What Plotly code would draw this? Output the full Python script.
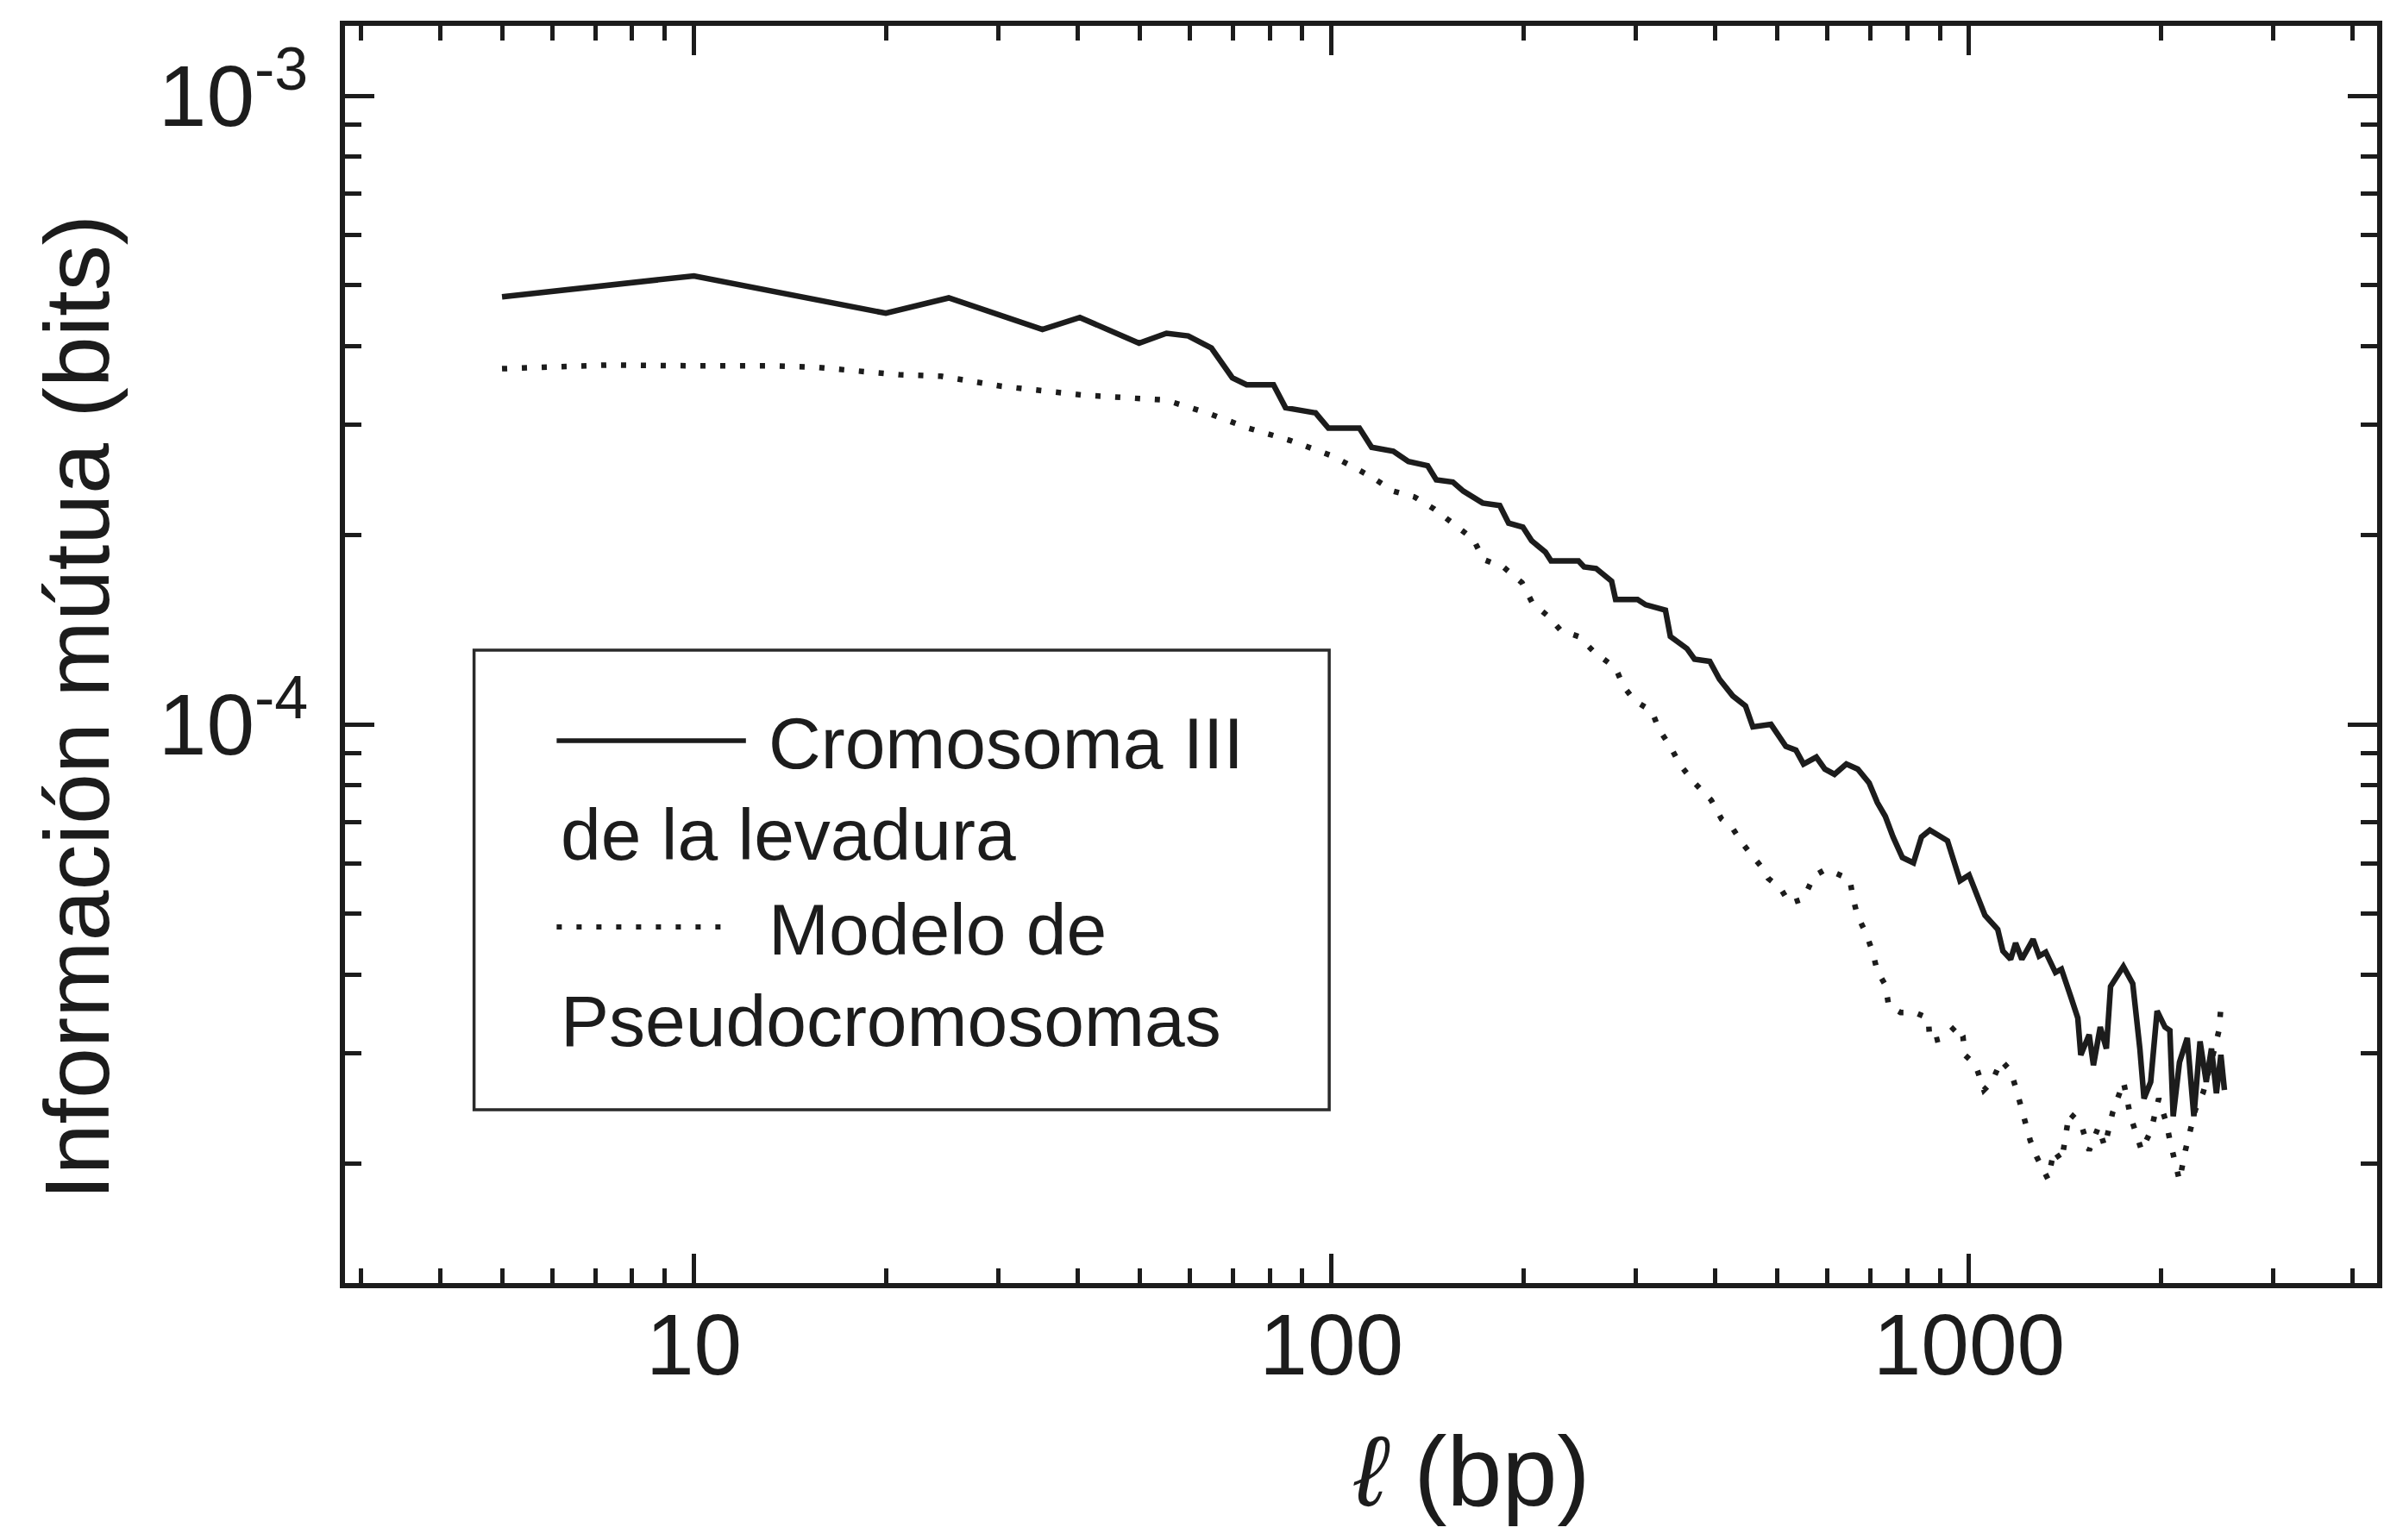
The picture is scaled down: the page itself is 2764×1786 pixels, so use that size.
import math
import plotly.graph_objects as go

# ---------------- data ----------------
l_cromosoma = [5, 10, 20, 25.1, 35.2, 40.3, 49.9, 55.1, 59.6, 64.8, 69.9, 73.6, 81.1, 84.7,
               94.4, 98.9, 110.6, 115.6, 125, 132, 141.5, 146, 155, 161, 172.6, 183.6, 189.6,
               199.6, 206, 216.5, 221, 244, 249, 260, 275, 279, 302, 311, 334, 340, 361, 371,
               392, 406, 426, 446, 458, 489, 516, 535, 550, 576, 594, 615, 642, 669, 697, 718,
               739, 760, 786, 818, 842, 868, 925, 968, 1000, 1035, 1059, 1109, 1130, 1162,
               1183, 1210, 1260, 1288, 1319, 1366, 1396, 1445, 1481, 1497, 1543, 1567, 1606,
               1642, 1667, 1746, 1806, 1853, 1881, 1927, 1972, 2029, 2065, 2090, 2138, 2199,
               2252, 2303, 2355, 2400, 2443, 2483, 2515]
mi_cromosoma = [4.79e-4, 5.17e-4, 4.51e-4, 4.77e-4, 4.25e-4, 4.44e-4, 4.04e-4, 4.19e-4, 4.15e-4,
                3.97e-4, 3.56e-4, 3.47e-4, 3.47e-4, 3.19e-4, 3.13e-4, 2.96e-4, 2.96e-4, 2.76e-4,
                2.72e-4, 2.62e-4, 2.58e-4, 2.45e-4, 2.43e-4, 2.35e-4, 2.25e-4, 2.23e-4, 2.09e-4,
                2.06e-4, 1.96e-4, 1.88e-4, 1.82e-4, 1.82e-4, 1.78e-4, 1.77e-4, 1.69e-4, 1.58e-4,
                1.58e-4, 1.55e-4, 1.52e-4, 1.38e-4, 1.32e-4, 1.27e-4, 1.26e-4, 1.18e-4, 1.11e-4,
                1.07e-4, 9.91e-5, 1.0e-4, 9.23e-5, 9.1e-5, 8.65e-5, 8.87e-5, 8.49e-5, 8.33e-5,
                8.65e-5, 8.49e-5, 8.07e-5, 7.51e-5, 7.14e-5, 6.62e-5, 6.14e-5, 6.02e-5, 6.62e-5,
                6.79e-5, 6.53e-5, 5.64e-5, 5.76e-5, 5.23e-5, 4.97e-5, 4.72e-5, 4.36e-5, 4.23e-5,
                4.49e-5, 4.23e-5, 4.55e-5, 4.28e-5, 4.34e-5, 4.03e-5, 4.08e-5, 3.68e-5, 3.41e-5,
                2.98e-5, 3.21e-5, 2.87e-5, 3.30e-5, 3.05e-5, 3.83e-5, 4.12e-5, 3.87e-5, 3.05e-5,
                2.54e-5, 2.70e-5, 3.50e-5, 3.30e-5, 3.26e-5, 2.38e-5, 2.90e-5, 3.17e-5, 2.38e-5,
                3.13e-5, 2.70e-5, 3.05e-5, 2.59e-5, 2.98e-5, 2.62e-5]

l_modelo = [5, 7.33, 9.86, 13.3, 15.5, 18.1, 21, 24.4, 30.4, 40.9, 55, 63.8, 74.1, 86.1, 99.6,
            108, 116, 125, 135, 145, 157, 167, 173, 186, 199, 206.6, 218, 229, 244, 259, 279,
            287, 299, 318, 326, 340, 352, 371, 394, 409, 426, 438, 453, 472, 484, 506, 523, 550,
            571, 594, 617, 650, 658, 668, 690, 705, 718, 739, 748, 781, 823, 863, 868, 913, 956,
            978, 985, 1024, 1055, 1086, 1123, 1162, 1188, 1225, 1247, 1277, 1330, 1359, 1397,
            1436, 1497, 1543, 1596, 1632, 1679, 1747, 1791, 1865, 1929, 1984, 2040, 2065, 2138,
            2184, 2224, 2265, 2330, 2380, 2427, 2466, 2483]
mi_modelo = [3.68e-4, 3.73e-4, 3.72e-4, 3.72e-4, 3.70e-4, 3.64e-4, 3.60e-4, 3.58e-4, 3.45e-4,
             3.34e-4, 3.28e-4, 3.13e-4, 2.96e-4, 2.83e-4, 2.68e-4, 2.57e-4, 2.47e-4, 2.35e-4,
             2.30e-4, 2.20e-4, 2.07e-4, 1.97e-4, 1.83e-4, 1.78e-4, 1.68e-4, 1.56e-4, 1.49e-4,
             1.41e-4, 1.38e-4, 1.30e-4, 1.23e-4, 1.15e-4, 1.09e-4, 1.05e-4, 9.84e-5, 9.22e-5,
             8.63e-5, 8.07e-5, 7.58e-5, 7.07e-5, 6.83e-5, 6.53e-5, 6.25e-5, 5.94e-5, 5.69e-5,
             5.49e-5, 5.19e-5, 5.28e-5, 5.74e-5, 5.87e-5, 5.80e-5, 5.67e-5, 5.28e-5, 4.97e-5,
             4.64e-5, 4.36e-5, 4.05e-5, 3.85e-5, 3.57e-5, 3.48e-5, 3.48e-5, 3.41e-5, 3.13e-5,
             3.17e-5, 3.32e-5, 3.19e-5, 2.98e-5, 2.87e-5, 2.62e-5, 2.70e-5, 2.92e-5, 2.81e-5,
             2.61e-5, 2.34e-5, 2.18e-5, 2.05e-5, 1.89e-5, 2.10e-5, 2.02e-5, 2.41e-5, 2.32e-5,
             2.10e-5, 2.29e-5, 2.13e-5, 2.41e-5, 2.70e-5, 2.38e-5, 2.10e-5, 2.26e-5, 2.54e-5,
             2.32e-5, 2.18e-5, 1.88e-5, 2.10e-5, 2.26e-5, 2.44e-5, 2.60e-5, 2.80e-5, 3.05e-5,
             3.26e-5, 3.55e-5]

x_tick_vals = [10, 100, 1000]
x_tick_text = ["10", "100", "1000"]
x_minor_vals = [3, 4, 5, 6, 7, 8, 9, 20, 30, 40, 50, 60, 70, 80, 90,
                200, 300, 400, 500, 600, 700, 800, 900, 2000, 3000, 4000]
y_tick_vals = [1e-4, 1e-3]
y_tick_text = ["10<sup>-4</sup>", "10<sup>-3</sup>"]
y_minor_vals = [2e-5, 3e-5, 4e-5, 5e-5, 6e-5, 7e-5, 8e-5, 9e-5,
                2e-4, 3e-4, 4e-4, 5e-4, 6e-4, 7e-4, 8e-4, 9e-4]

name_cromosoma = "Cromosoma III de la levadura"
name_modelo = "Modelo de Pseudocromosomas"

# ---------------- layout geometry ----------------
W, H = 2764, 1786
L, R, T, B = 400, 2762, 30, 1488
FONT = "Liberation Sans, Arial, Helvetica, sans-serif"
INK = "#1c1c1c"
DOTS = "6px,17px"


def px(xp):
    return (xp - L) / (R - L)


def py(yp):
    return (B - yp) / (B - T)


fig = go.Figure()
fig.add_trace(go.Scatter(x=l_cromosoma, y=mi_cromosoma, mode="lines", name=name_cromosoma,
                         line=dict(color=INK, width=6.5), showlegend=False))
fig.add_trace(go.Scatter(x=l_modelo, y=mi_modelo, mode="lines", name=name_modelo,
                         line=dict(color=INK, width=6.5, dash=DOTS), showlegend=False))

axis_common = dict(
    type="log", showline=True, linecolor=INK, linewidth=5.5, mirror="ticks",
    ticks="inside", tickwidth=4.5, tickcolor=INK, ticklen=34,
    showgrid=False, zeroline=False,
    tickfont=dict(family=FONT, size=100, color=INK),
)

fig.update_layout(
    width=W, height=H,
    margin=dict(l=L, r=W - R, t=T, b=H - B),
    paper_bgcolor="white", plot_bgcolor="white",
    xaxis=dict(axis_common, range=[math.log10(2.836), math.log10(4365)],
               tickmode="array", tickvals=x_tick_vals, ticktext=x_tick_text,
               ticklabelstandoff=-20,
               minor=dict(tickmode="array", tickvals=x_minor_vals, ticks="inside",
                          ticklen=17, tickwidth=4.5, tickcolor=INK, showgrid=False)),
    yaxis=dict(axis_common, range=[math.log10(1.292e-5), math.log10(1.292e-3)],
               tickmode="array", tickvals=y_tick_vals, ticktext=y_tick_text,
               ticklabelstandoff=17,
               minor=dict(tickmode="array", tickvals=y_minor_vals, ticks="inside",
                          ticklen=19, tickwidth=4.5, tickcolor=INK, showgrid=False)),
    showlegend=False,
)

# axis titles
fig.add_annotation(xref="paper", yref="paper", x=px(1710), y=py(1706),
                   text="<i>ℓ</i> (bp)", showarrow=False, xanchor="center", yanchor="middle",
                   font=dict(family=FONT, size=115, color=INK))
fig.add_annotation(xref="paper", yref="paper", x=px(88), y=py(820),
                   text="Información mútua (bits)", showarrow=False, textangle=-90,
                   xanchor="center", yanchor="middle",
                   font=dict(family=FONT, size=106, color=INK))

# legend box (drawn)
fig.add_shape(type="rect", xref="paper", yref="paper", x0=px(550), x1=px(1544),
              y0=py(1287), y1=py(754), line=dict(color="#2a2a2a", width=3.5),
              fillcolor="rgba(255,255,255,0)")
fig.add_shape(type="line", xref="paper", yref="paper", x0=px(646), x1=px(866),
              y0=py(859), y1=py(859), line=dict(color=INK, width=5.5))
fig.add_shape(type="line", xref="paper", yref="paper", x0=px(646), x1=px(846),
              y0=py(1075), y1=py(1075), line=dict(color=INK, width=6, dash=DOTS))

leg_font = dict(family=FONT, size=84, color=INK)
for txt, xl, yc in [("Cromosoma III", 890, 862), ("de la levadura", 649, 968),
                    ("Modelo de", 890, 1078), ("Pseudocromosomas", 649, 1184)]:
    fig.add_annotation(xref="paper", yref="paper", x=px(xl), y=py(yc), text=txt,
                       showarrow=False, xanchor="left", yanchor="middle", font=leg_font)

fig.write_html("out.html")
